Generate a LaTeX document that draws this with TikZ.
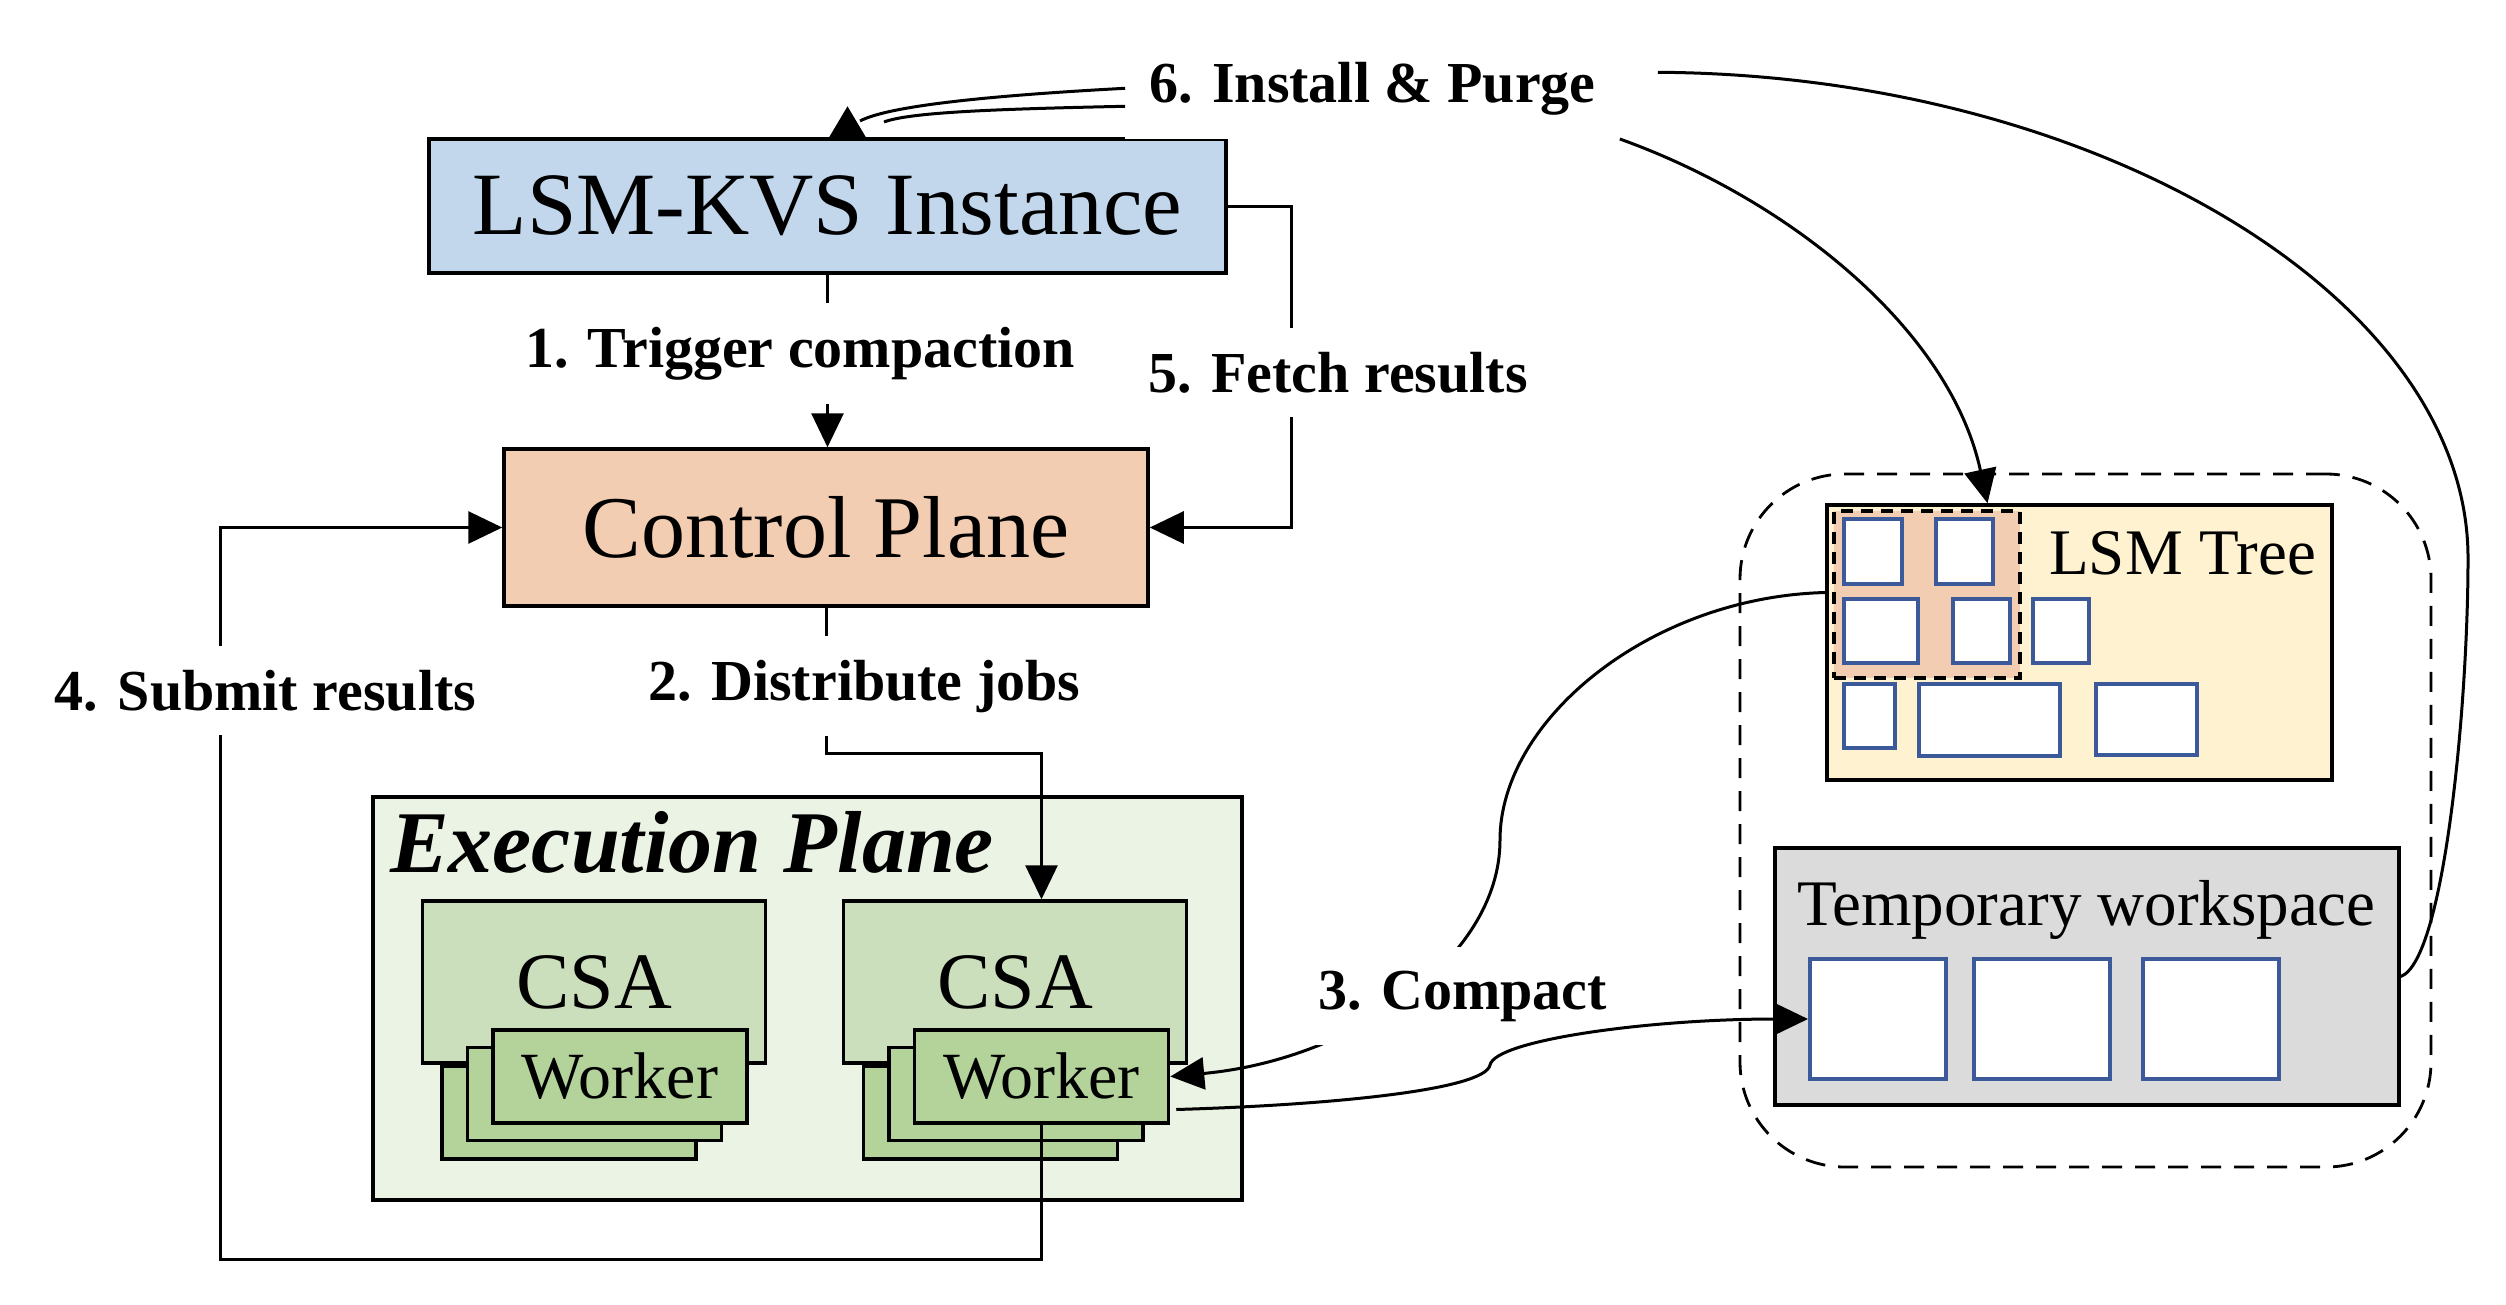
\documentclass[tikz,border=0pt]{standalone}
\usepackage{fontspec}
\setmainfont{Liberation Serif}
\usetikzlibrary{positioning, arrows.meta}

\definecolor{kvsblue}{HTML}{C3D7EC}
\definecolor{peach}{HTML}{F2CDB1}
\definecolor{execbg}{HTML}{EBF3E5}
\definecolor{csagreen}{HTML}{CCDFBC}
\definecolor{wkgreen}{HTML}{B3D39B}
\definecolor{treebg}{HTML}{FEF2D1}
\definecolor{tempgray}{HTML}{DBDBDB}
\definecolor{sstblue}{HTML}{3C5A99}

\begin{document}
\begin{tikzpicture}[x=1pt, y=-1pt,
  box/.style={draw, line width=3.5pt, inner sep=0pt},
  lbl/.style={font=\fontsize{58}{66}\selectfont\bfseries, fill=white, inner sep=24pt, anchor=base},
  conn/.style={line width=3pt},
  arr/.style={conn, -{Triangle[length=34pt, width=32pt]}},
  sst/.style={draw=sstblue, fill=white, line width=4pt, inner sep=0pt},
  csa/.style={box, fill=csagreen, minimum width=343pt, minimum height=162pt, font=\fontsize{80}{84}\selectfont},
  worker/.style={box, fill=wkgreen, minimum width=254pt, minimum height=93pt, font=\fontsize{66}{70}\selectfont}]
\useasboundingbox[fill=white] (0,0) rectangle (2506,1304);

% left side: instance, control plane, execution plane
\node[box, fill=kvsblue, minimum width=797pt, minimum height=134pt, font=\fontsize{89}{92}\selectfont] (kvs) at (827.5,206) {LSM-KVS Instance};
\node[box, fill=peach, minimum width=644pt, minimum height=157pt, font=\fontsize{88}{92}\selectfont] (cp) at (826,527.5) {Control Plane};
\node[box, fill=execbg, minimum width=869pt, minimum height=403pt] (exec) at (807.5,998.5) {};
\node[anchor=base west, inner sep=0pt, font=\fontsize{88}{92}\selectfont\bfseries\itshape] (exectitle) at (390,872) {Execution Plane};
\node[csa] (csa1) at (594,982) {CSA};
\node[csa] (csa2) at (1015,982) {CSA};
\foreach \n/\x in {1/620, 2/1041.5} {
  \node[worker] (wk\n c) at (\x-51,1112.5) {};
  \node[worker] (wk\n b) at (\x-25.5,1094) {};
  \node[worker] (wk\n) at (\x,1076.5) {Worker};
}

% right side: storage
\node[draw, dash pattern=on 20pt off 13pt, line width=2.8pt, rounded corners=105pt, minimum width=691pt, minimum height=693pt] (store) at (2085.5,820.5) {};
\node[box, fill=treebg, minimum width=505pt, minimum height=275pt] (tree) at (2079.5,642.5) {};
\node[draw, fill=peach, line width=4pt, dash pattern=on 12pt off 8pt, minimum width=186pt, minimum height=167pt] (job) at (1927,594.5) {};
\foreach \a/\b/\c/\d in {1844/519/1902/584, 1936/519/1993/584, 1844/599/1918/663, 1953/599/2010/663,
  2033/599/2089/663, 1844/684/1895/748, 1919/684/2060/756, 2096/684/2197/755}
  \draw[sst] (\a,\b) rectangle (\c,\d);
\node[anchor=base west, inner sep=0pt, font=\fontsize{65}{70}\selectfont] (treetitle) at (2049,574) {LSM Tree};
\node[box, fill=tempgray, minimum width=624pt, minimum height=257pt] (temp) at (2087,976.5) {};
\node[anchor=base west, inner sep=0pt, font=\fontsize{65}{70}\selectfont] (temptitle) at (1797,925) {Temporary workspace};
\foreach \i/\x in {1/1878, 2/2041.5, 3/2210.5}
  \node[sst, minimum width=136pt, minimum height=120pt] (tmp\i) at (\x,1019) {};

% 1. trigger
\draw[arr] (kvs.south) -- (kvs.south |- cp.north);
\node[lbl] (trig) at (800,367) {1. Trigger compaction};
% 5. fetch
\draw[arr] (kvs.east) -- ++(64,0) |- (cp.east);
\node[lbl] (fetch) at (1338,392) {5. Fetch results};
% 2. distribute
\draw[arr] (cp.south) -- ++(0,146) -| (wk2.north |- csa2.north);
\node[lbl] (dist) at (864.5,700) {2. Distribute jobs};
% 4. submit
\draw[arr] (wk2.south) |- (220,1259) |- (cp.west);
\node[lbl] (submit) at (265.5,710) {4. Submit results};
% 3. compact
\draw[arr] ([yshift=50pt]tree.west) .. controls (1650,597) and (1500,720) .. (1500,840)
  .. controls (1500,960) and (1350,1060) .. (wk2.east);
\node[lbl] (compact) at (1462.5,1009) {3. Compact};
\draw[arr] ([xshift=6pt,yshift=-33pt]wk2.east) .. controls (1330,1105) and (1485,1090) .. (1490,1065)
  .. controls (1495,1040) and (1650,1019) .. (tmp1.west);
% 6. install & purge
\node[lbl] (install) at (1372.5,102) {6. Install \& Purge};
\draw[conn] (install.west) .. controls (1000,95) and (890,105) .. (860,121);
\draw[conn] ([yshift=-18pt]install.west) .. controls (1000,109) and (910,112) .. (884,122);
\draw[conn, -{Triangle[length=31pt, width=36pt]}] ([xshift=20pt]kvs.north) -- ++(0,-31);
\draw[arr] (install.south east) .. controls (1790,200) and (1950,330) .. ([xshift=-92pt]tree.north);
\draw[conn] ([xshift=38pt,yshift=16pt]install.east) .. controls (2100,75) and (2470,300) .. (2468,560)
  .. controls (2468,700) and (2445,960) .. (temp.east);
\end{tikzpicture}
\end{document}
